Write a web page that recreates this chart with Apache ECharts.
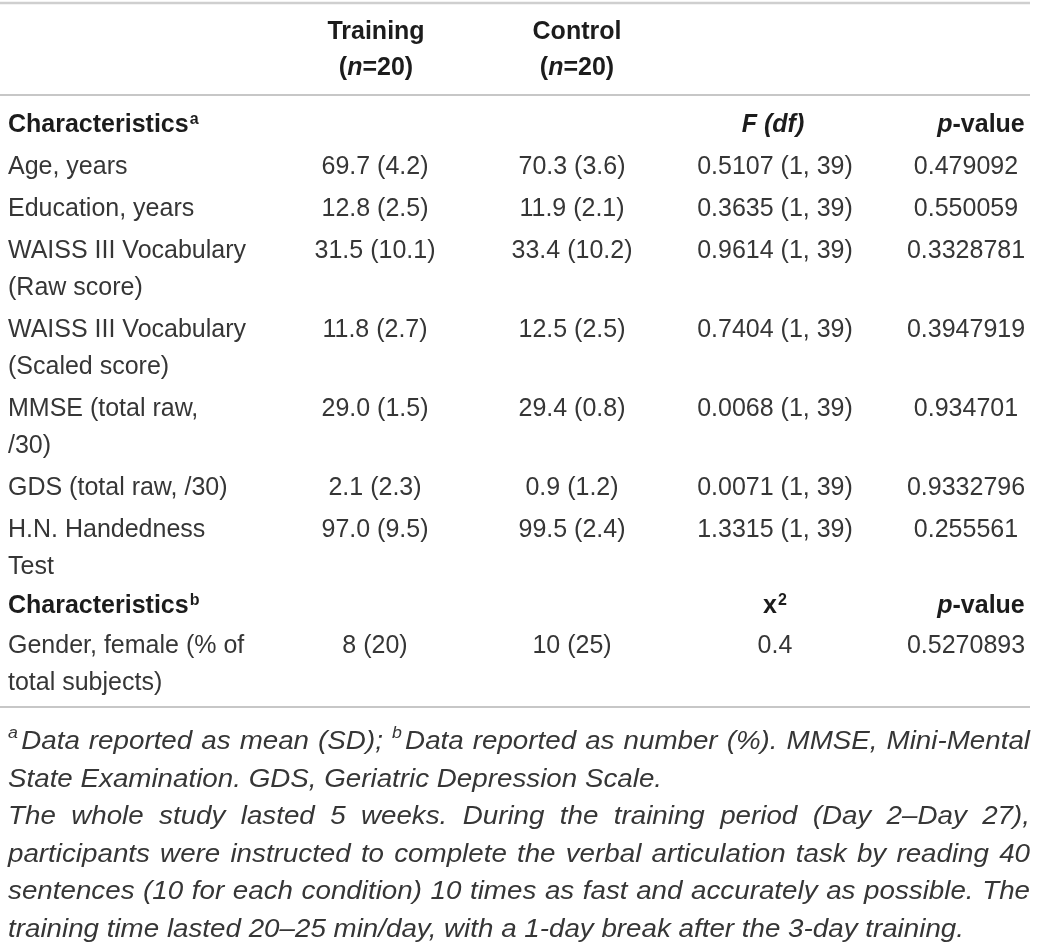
<!DOCTYPE html>
<html>
<head>
<meta charset="utf-8">
<script src="https://cdn.jsdelivr.net/npm/echarts@6/dist/echarts.min.js"></script>
<style>
html,body{margin:0;padding:0;background:#ffffff;}
#chart{width:1037px;height:943px;}
</style>
</head>
<body>
<div id="chart"></div>
<script>
// ---------------- data ----------------
const groupNames = ["Training", "Control"];
const groupSizes = [20, 20];
const sectionLabel = "Characteristics";
const sectionMarks = ["a", "b"];
const statHeadersA = ["F (df)", "p-value"];
const statHeadersB = ["x", "p-value"];
const characteristics = [
  "Age, years",
  "Education, years",
  "WAISS III Vocabulary\n(Raw score)",
  "WAISS III Vocabulary\n(Scaled score)",
  "MMSE (total raw,\n/30)",
  "GDS (total raw, /30)",
  "H.N. Handedness\nTest"
];
const trainingValues = ["69.7 (4.2)", "12.8 (2.5)", "31.5 (10.1)", "11.8 (2.7)", "29.0 (1.5)", "2.1 (2.3)", "97.0 (9.5)"];
const controlValues  = ["70.3 (3.6)", "11.9 (2.1)", "33.4 (10.2)", "12.5 (2.5)", "29.4 (0.8)", "0.9 (1.2)", "99.5 (2.4)"];
const fValues = ["0.5107 (1, 39)", "0.3635 (1, 39)", "0.9614 (1, 39)", "0.7404 (1, 39)", "0.0068 (1, 39)", "0.0071 (1, 39)", "1.3315 (1, 39)"];
const pValues = ["0.479092", "0.550059", "0.3328781", "0.3947919", "0.934701", "0.9332796", "0.255561"];
const genderLabels = ["Gender, female (% of\ntotal subjects)"];
const genderTraining = ["8 (20)"];
const genderControl = ["10 (25)"];
const chiSquareValues = ["0.4"];
const genderPValues = ["0.5270893"];
const footnoteLines = [
  "^aData reported as mean (SD); ^bData reported as number (%). MMSE, Mini-Mental",
  "State Examination. GDS, Geriatric Depression Scale.",
  "The whole study lasted 5 weeks. During the training period (Day 2\u2013Day 27),",
  "participants were instructed to complete the verbal articulation task by reading 40",
  "sentences (10 for each condition) 10 times as fast and accurately as possible. The",
  "training time lasted 20\u201325 min/day, with a 1-day break after the 3-day training."
];
const footnoteJustified = [true, false, true, true, true, false];

// ---------------- layout ----------------
const W = 1037, H = 943;
const FONT = '"Liberation Sans", Arial, Helvetica, sans-serif';
const COL = {label: 8, training: 375, control: 572, f: 775, p: 966};
const HEAD_COL = {training: 376, control: 577, f: 773, p: 981};
const LINE_H = 37, ROW_PAD = 5;
const BODY_TOP = 104;
const HEAD_Y = [32, 68];
const RULE_X = [0, 1030];
const TEXT_FILL = '#363636', BOLD_FILL = '#1c1c1c';

const richStyles = {
  b:   {fontSize: 25, fontWeight: 'bold', fontFamily: FONT, fill: BOLD_FILL, lineHeight: LINE_H},
  bi:  {fontSize: 25, fontWeight: 'bold', fontStyle: 'italic', fontFamily: FONT, fill: BOLD_FILL, lineHeight: LINE_H},
  sup: {fontSize: 16, fontWeight: 'bold', fontFamily: FONT, fill: BOLD_FILL, lineHeight: 30, verticalAlign: 'top', padding: [5, 0, 0, 1]}
};

const cells = [];
function addCell(x, y, text, align, rich, vAlign) {
  cells.push({x: x, y: y, text: text, align: align, rich: !!rich, v: vAlign || 'middle'});
}

// header
groupNames.forEach((g, i) => {
  const cx = i === 0 ? HEAD_COL.training : HEAD_COL.control;
  addCell(cx, HEAD_Y[0], '{b|' + g + '}', 'center', true);
  addCell(cx, HEAD_Y[1], '{b|(}{bi|n}{b|=' + groupSizes[i] + ')}', 'center', true);
});

// rows
const rows = [];
rows.push({type: 'section', mark: sectionMarks[0], stats: statHeadersA, sup2: false, pad: ROW_PAD});
characteristics.forEach((c, i) => rows.push({type: 'data', label: c, t: trainingValues[i], c: controlValues[i], s: fValues[i], p: pValues[i], pad: ROW_PAD}));
rows.push({type: 'section', mark: sectionMarks[1], stats: statHeadersB, sup2: true, pad: 0});
genderLabels.forEach((g, i) => rows.push({type: 'data', label: g, t: genderTraining[i], c: genderControl[i], s: chiSquareValues[i], p: genderPValues[i], pad: ROW_PAD}));

let rowTop = BODY_TOP;
rows.forEach(r => {
  const lines = r.type === 'data' ? r.label.split('\n').length : 1;
  const h = lines * LINE_H + r.pad;
  const boxTop = rowTop + r.pad / 2;
  const firstY = boxTop + LINE_H / 2;
  if (r.type === 'section') {
    addCell(COL.label, firstY, '{b|' + sectionLabel + '}{sup|' + r.mark + '}', 'left', true);
    const sTxt = r.sup2 ? '{b|' + r.stats[0] + '}{sup|2}' : '{bi|' + r.stats[0] + '}';
    addCell(r.sup2 ? COL.f : HEAD_COL.f, firstY, sTxt, 'center', true);
    addCell(HEAD_COL.p, firstY, '{bi|p}{b|-value}', 'center', true);
  } else {
    addCell(COL.label, boxTop, r.label, 'left', false, 'top');
    addCell(COL.training, firstY, r.t, 'center', false);
    addCell(COL.control, firstY, r.c, 'center', false);
    addCell(COL.f, firstY, r.s, 'center', false);
    addCell(COL.p, firstY, r.p, 'center', false);
  }
  rowTop += h;
});

const rules = [
  {y: 3, w: 2.5, color: '#cfcfcf'},
  {y: 95, w: 1.5, color: '#b4b4b4'},
  {y: rowTop + 3, w: 1.5, color: '#b4b4b4'}
];

// ---------------- footnote (justified text) ----------------
const FN_SIZE = 25;
const FN_FONT = 'italic ' + FN_SIZE + 'px ' + FONT;
const FN_SUP_FONT = 'italic 16px ' + FONT;
const FN_Y0 = 742, FN_DY = 37.6, FN_LEFT = 8, FN_RIGHT = 1030;
const FN_TARGET = [653, 957];   // natural widths of the two ragged lines
const mctx = document.createElement('canvas').getContext('2d');
function mw(t, f) { mctx.font = f; return mctx.measureText(t).width; }
function wordInfo(w) {
  if (w.startsWith('^')) {
    const sup = w.charAt(1), rest = w.slice(2);
    const sw = mw(sup, FN_SUP_FONT);
    return {sup: sup, rest: rest, supW: sw, w: sw + 3 + mw(rest, FN_FONT)};
  }
  return {sup: null, rest: w, supW: 0, w: mw(w, FN_FONT)};
}
function natural(line) {
  const ws = line.split(' ').map(wordInfo);
  return ws.reduce((a, b) => a + b.w, 0) + (ws.length - 1) * mw(' ', FN_FONT);
}
const SX = (FN_TARGET[0] + FN_TARGET[1]) / (natural(footnoteLines[1]) + natural(footnoteLines[5]));
const graphics = [];
footnoteLines.forEach((line, li) => {
  const ws = line.split(' ').map(wordInfo);
  const y = FN_Y0 + li * FN_DY;
  const total = ws.reduce((a, b) => a + b.w, 0) * SX;
  const gap = footnoteJustified[li] ? (FN_RIGHT - FN_LEFT - total) / (ws.length - 1) : mw(' ', FN_FONT) * SX;
  let x = FN_LEFT;
  ws.forEach(wi => {
    if (wi.sup) {
      graphics.push({type: 'text', x: x, y: y - 8, scaleX: SX, silent: true,
        style: {text: wi.sup, font: FN_SUP_FONT, fill: TEXT_FILL, align: 'left', textAlign: 'left', verticalAlign: 'middle', textVerticalAlign: 'middle'}});
    }
    graphics.push({type: 'text', x: x + (wi.sup ? (wi.supW + 3) * SX : 0), y: y, scaleX: SX, silent: true,
      style: {text: wi.rest, font: FN_FONT, fill: TEXT_FILL, align: 'left', textAlign: 'left', verticalAlign: 'middle', textVerticalAlign: 'middle'}});
    x += wi.w * SX + gap;
  });
});

// ---------------- chart ----------------
const chart = echarts.init(document.getElementById('chart'), null, {renderer: 'canvas'});
chart.setOption({
  animation: false,
  backgroundColor: '#ffffff',
  grid: {left: 0, right: 0, top: 0, bottom: 0},
  xAxis: {type: 'value', min: 0, max: W, show: false},
  yAxis: {type: 'value', min: 0, max: H, inverse: true, show: false},
  graphic: graphics,
  series: [
    {
      type: 'custom',
      clip: false,
      silent: true,
      data: rules.map(r => [RULE_X[0], r.y, RULE_X[1]]),
      renderItem: function (params, api) {
        const r = rules[params.dataIndex];
        const a = api.coord([api.value(0), api.value(1)]);
        const b = api.coord([api.value(2), api.value(1)]);
        return {type: 'line', shape: {x1: a[0], y1: a[1], x2: b[0], y2: b[1]},
          style: {stroke: r.color, lineWidth: r.w}};
      }
    },
    {
      type: 'custom',
      clip: false,
      silent: true,
      data: cells.map(c => [c.x, c.y]),
      renderItem: function (params, api) {
        const c = cells[params.dataIndex];
        const p = api.coord([api.value(0), api.value(1)]);
        const style = {
          text: c.text,
          align: c.align, textAlign: c.align,
          verticalAlign: c.v, textVerticalAlign: c.v,
          fontSize: 25, fontFamily: FONT, fill: TEXT_FILL, lineHeight: LINE_H
        };
        if (c.rich) style.rich = richStyles;
        return {type: 'text', x: p[0], y: p[1], style: style};
      }
    }
  ]
});
</script>
</body>
</html>
